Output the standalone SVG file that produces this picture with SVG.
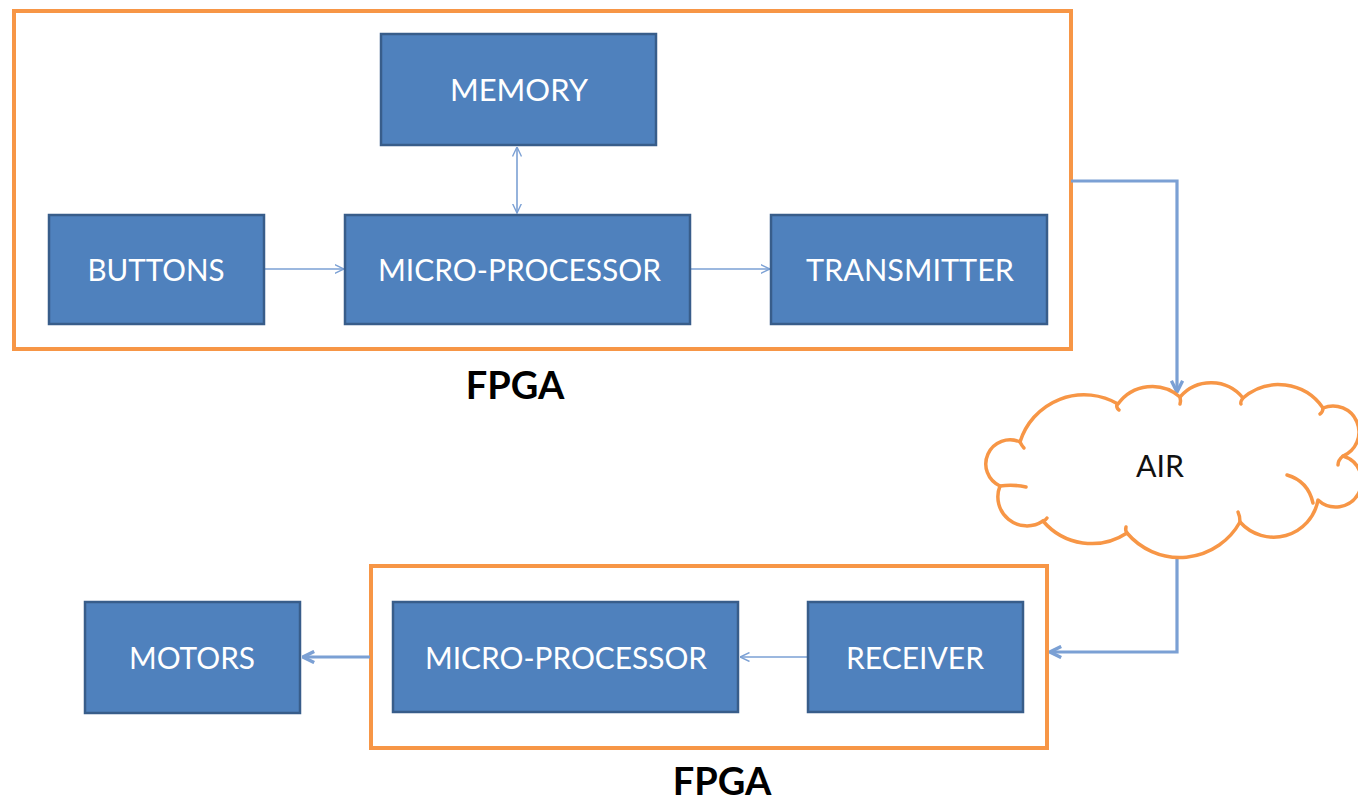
<svg xmlns="http://www.w3.org/2000/svg" width="1358" height="804" viewBox="0 0 1358 804">
<defs>
<style>
.frame{fill:#fff;stroke:#F79646;stroke-width:4}
.box{fill:#4F81BD;stroke:#385D8A;stroke-width:2.5}
.lbl{font-family:Lato,"Open Sans","Liberation Sans",sans-serif;font-size:30px;fill:#fff;text-anchor:middle}
.fpga{font-family:Lato,"Open Sans","Liberation Sans",sans-serif;font-size:38px;font-weight:bold;fill:#000;text-anchor:middle}
.thin{fill:none;stroke:#7BA0D4;stroke-width:1.6}
.thick{fill:none;stroke:#7BA0D4;stroke-width:3.2}
.cloud{fill:#fff;stroke:#F79646;stroke-width:3.5;stroke-linejoin:round}
.curl{fill:none;stroke:#F79646;stroke-width:3.5;stroke-linecap:round}
</style>
<marker id="ah" viewBox="0 0 10 10" refX="9.5" refY="5" markerWidth="10" markerHeight="10" markerUnits="userSpaceOnUse" orient="auto-start-reverse">
<path d="M0,0.5 L9.5,5 L0,9.5" fill="none" stroke="#7BA0D4" stroke-width="1.4"/>
</marker>
<marker id="ahb" viewBox="0 0 10 10" refX="9" refY="5" markerWidth="14" markerHeight="14" markerUnits="userSpaceOnUse" orient="auto">
<path d="M1,1 L9,5 L1,9" fill="none" stroke="#7BA0D4" stroke-width="2.4"/>
</marker>
</defs>
<rect width="1358" height="804" fill="#fff"/>

<g id="fpga-top">
<rect class="frame" x="14" y="11" width="1057" height="338"/>
<text class="fpga" x="515" y="399">FPGA</text>
</g>
<g id="fpga-bottom">
<rect class="frame" x="371" y="566" width="676" height="182"/>
<text class="fpga" x="722" y="795">FPGA</text>
</g>

<g id="connectors">
<line class="thin" x1="265" y1="269" x2="344" y2="269" marker-end="url(#ah)"/>
<line class="thin" x1="691" y1="269" x2="770" y2="269" marker-end="url(#ah)"/>
<line class="thin" x1="517" y1="147" x2="517" y2="213" marker-start="url(#ah)" marker-end="url(#ah)"/>
<polyline class="thick" points="1071,181 1177,181 1177,392" marker-end="url(#ahb)"/>
<polyline class="thick" points="1177,553 1177,652 1050,652" marker-end="url(#ahb)"/>
<line class="thin" x1="807" y1="657" x2="740" y2="657" marker-end="url(#ah)"/>
<line class="thick" x1="370" y1="657" x2="303" y2="657" marker-end="url(#ahb)"/>
</g>

<g id="memory">
<rect class="box" x="381" y="34" width="275" height="111"/>
<text class="lbl" x="519" y="101" textLength="138" lengthAdjust="spacingAndGlyphs">MEMORY</text>
</g>
<g id="buttons">
<rect class="box" x="49" y="215" width="215" height="109"/>
<text class="lbl" x="156" y="281" textLength="137" lengthAdjust="spacingAndGlyphs">BUTTONS</text>
</g>
<g id="mp-top">
<rect class="box" x="345" y="215" width="345" height="109"/>
<text class="lbl" x="519.5" y="281" textLength="283" lengthAdjust="spacingAndGlyphs">MICRO-PROCESSOR</text>
</g>
<g id="transmitter">
<rect class="box" x="771" y="215" width="276" height="109"/>
<text class="lbl" x="910" y="281" textLength="208" lengthAdjust="spacingAndGlyphs">TRANSMITTER</text>
</g>

<g id="air">
<path class="cloud" d="M1020,442 A67,67 0 0 1 1118,404 A42,42 0 0 1 1180,397 A41,41 0 0 1 1243,398 A54,54 0 0 1 1323,408 A26,26 0 0 1 1343,456 A26,26 0 1 1 1318,500 A45,45 0 0 1 1240,522 A69,69 0 0 1 1127,533 A64,64 0 0 1 1043,521 A29,29 0 0 1 1000,486 A24,24 0 1 1 1020,442 Z"/>
<path class="curl" d="M1020,442 Q1022,446 1024,448"/>
<path class="curl" d="M1000,486 Q1013,484 1026,487"/>
<path class="curl" d="M1117,404 Q1116,408 1119,410"/>
<path class="curl" d="M1180,397 Q1181,401 1180,404"/>
<path class="curl" d="M1243,398 Q1240,402 1241,404"/>
<path class="curl" d="M1323,408 Q1323,412 1320,414"/>
<path class="curl" d="M1343,456 Q1338,460 1338,465"/>
<path class="curl" d="M1287,475 Q1308,481 1313,503"/>
<path class="curl" d="M1240,522 Q1240,516 1238,512"/>
<path class="curl" d="M1127,533 Q1125,530 1126,527"/>
<path class="curl" d="M1043,521 Q1046,520 1047,518"/>
<text x="1160" y="477" font-family="Lato,'Open Sans','Liberation Sans',sans-serif" font-size="30" fill="#111" text-anchor="middle" textLength="48" lengthAdjust="spacingAndGlyphs">AIR</text>
</g>

<g id="motors">
<rect class="box" x="85" y="602" width="215" height="111"/>
<text class="lbl" x="192" y="669" textLength="126" lengthAdjust="spacingAndGlyphs">MOTORS</text>
</g>
<g id="mp-bottom">
<rect class="box" x="393" y="602" width="345" height="110"/>
<text class="lbl" x="566" y="669" textLength="282" lengthAdjust="spacingAndGlyphs">MICRO-PROCESSOR</text>
</g>
<g id="receiver">
<rect class="box" x="808" y="602" width="215" height="110"/>
<text class="lbl" x="915" y="669" textLength="138" lengthAdjust="spacingAndGlyphs">RECEIVER</text>
</g>
</svg>
